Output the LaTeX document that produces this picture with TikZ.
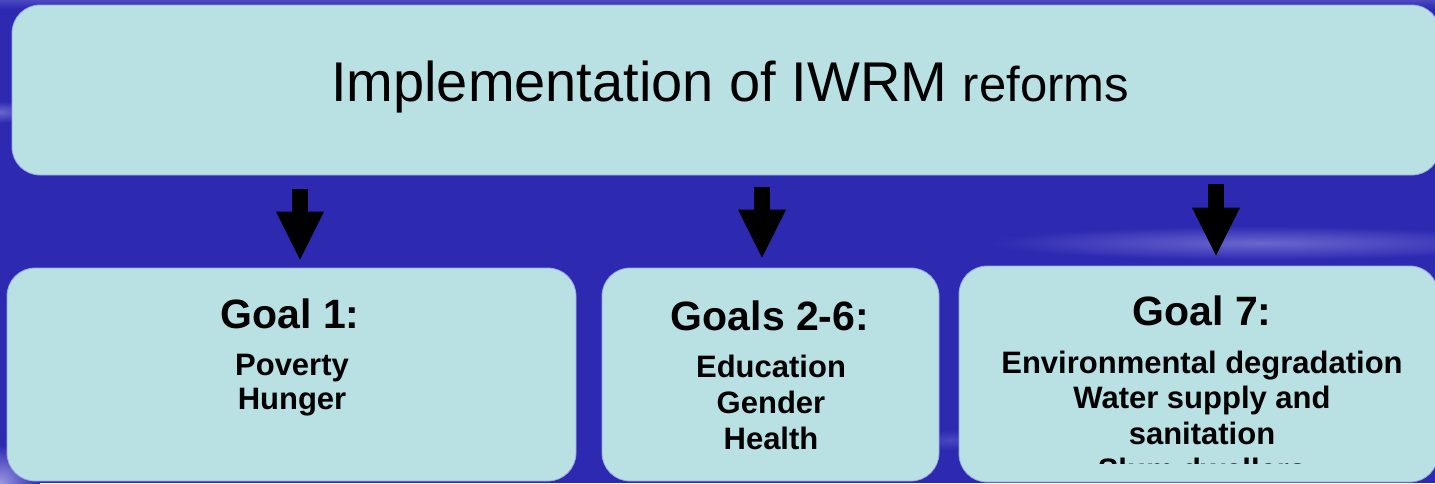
\documentclass[tikz,border=0pt]{standalone}
\usepackage{fontspec}
\setmainfont{Liberation Sans}
\usetikzlibrary{arrows.meta}
\definecolor{bgblue}{HTML}{2D29B1}
\definecolor{bgtop}{HTML}{4A47C2}
\definecolor{glow}{HTML}{6A66CE}
\definecolor{glowlight}{HTML}{9A96DF}
\definecolor{boxfill}{HTML}{B9E0E3}
\definecolor{boxedge}{HTML}{94A8E2}

\begin{document}
\begin{tikzpicture}[x=1pt,y=-1pt,
  panel/.style={draw=boxedge, line width=0.8pt, fill=boxfill,
    rounded corners=28pt, inner sep=0pt, anchor=center},
  goaltitle/.style={font=\bfseries\fontsize{41}{45}\selectfont,
    anchor=base, inner sep=0pt},
  goalitems/.style={font=\bfseries\fontsize{31}{35.7}\selectfont,
    align=center, anchor=base, inner sep=0pt},
  blockarrow/.style={black, line width=16pt,
    -{Triangle[width=48pt,length=48pt,line width=0pt]}}
]
% page frame
\clip (0,0) rectangle (1435,483);

% blue backdrop with soft lighter streaks
\fill[bgblue] (0,0) rectangle (1435,483);
\shade[top color=bgtop, bottom color=bgblue] (0,0) rectangle (1435,9);
\shade[inner color=glow, outer color=bgblue] (1260,243) ellipse [x radius=270, y radius=17];
\shade[inner color=glowlight, outer color=bgblue] (0,483) ellipse [x radius=40, y radius=38];
\shade[inner color=glow, outer color=bgblue] (0,112) ellipse [x radius=30, y radius=11];
\shade[inner color=bgtop, outer color=bgblue] (950,440) ellipse [x radius=30, y radius=10];

% top panel
\node[panel, minimum width=1428pt, minimum height=170pt] (top) at (726,90) {};
\node[anchor=base, inner sep=0pt, font=\fontsize{56}{60}\selectfont] (toptext) at (730,101)
  {Implementation of IWRM {\fontsize{49}{52}\selectfont reforms}};

% goal panels
\node[panel, minimum width=569pt, minimum height=213pt] (g1) at (291.5,374.5) {};
\node[panel, minimum width=337pt, minimum height=213pt] (g2) at (770.5,374.5) {};
\node[panel, minimum width=479pt, minimum height=216pt] (g3) at (1198.5,374) {};

\node[goaltitle] (t1) at (290,328) {Goal 1:};
\node[goaltitle] (t2) at (770,330) {Goals 2-6:};
\node[goaltitle] (t3) at (1202,325) {Goal 7:};

% item lists, placed by the baseline of their last line
\node[goalitems, font=\bfseries\fontsize{31}{34.5}\selectfont] (i1) at (292,409.5) {Poverty\\Hunger};
\node[goalitems, font=\bfseries\fontsize{31}{36}\selectfont] (i2) at (771,449) {Education\\Gender\\Health};
\begin{scope}
  \clip (959,266) rectangle (1438,463);
  \node[goalitems] (i3) at (1202,480.1)
    {Environmental degradation\\Water supply and\\sanitation\\Slum dwellers};
\end{scope}

% block arrows from the reform panel down to each goal
\coordinate (ax1) at (300,0);
\coordinate (ax2) at (762,0);
\coordinate (ax3) at (1216,0);
\draw[blockarrow] ([yshift=-14pt]top.south -| ax1) -- ([yshift=8pt]g1.north -| ax1);
\draw[blockarrow] ([yshift=-12pt]top.south -| ax2) -- ([yshift=10pt]g2.north -| ax2);
\draw[blockarrow] ([yshift=-9pt]top.south -| ax3) -- ([yshift=10pt]g3.north -| ax3);
\end{tikzpicture}
\end{document}
